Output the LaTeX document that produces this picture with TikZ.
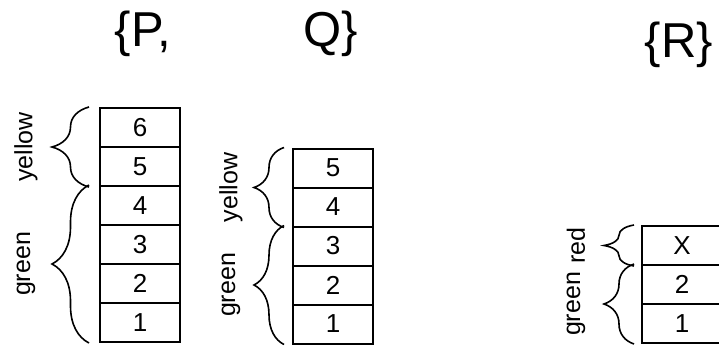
\documentclass[tikz,border=0pt]{standalone}
\usepackage{fontspec}
\setmainfont{Liberation Sans}
\usepackage{tikz}
\usetikzlibrary{positioning}
\usetikzlibrary{decorations.pathreplacing}

\begin{document}
\begin{tikzpicture}[x=1pt, y=1pt, node distance=39pt, line width=2pt,
    cell/.style={draw, minimum width=80pt, minimum height=39pt, inner sep=0pt, font=\fontsize{26}{28}\selectfont},
    grp/.style={decorate, decoration={brace, amplitude=#1}, line width=1.6pt},
    lbl/.style={rotate=90, font=\fontsize{25}{28}\selectfont},
    ttl/.style={anchor=base, font=\fontsize{49}{54}\selectfont}]
    \useasboundingbox (0,0) rectangle (719,349);

    \node[ttl] (tp) at (143,302) {\{P,};
    \node[ttl] (tq) at (331,302) {Q\}};
    \node[ttl] (tr) at (679,292) {\{R\}};

    \node[cell] (p6) at (140,221.5) {6};
    \node[cell] (p5) [below of=p6] {5};
    \node[cell] (p4) [below of=p5] {4};
    \node[cell] (p3) [below of=p4] {3};
    \node[cell] (p2) [below of=p3] {2};
    \node[cell] (p1) [below of=p2] {1};
    \draw[grp=37] ([xshift=-10pt]p5.south west) -- node[xshift=-63pt, lbl] {yellow} ([xshift=-10pt]p6.north west);
    \draw[grp=37] ([xshift=-10pt]p1.south west) -- node[xshift=-63pt, lbl] {green} ([xshift=-10pt]p4.north west);

    \node[cell] (q5) at (333,181) {5};
    \node[cell] (q4) [below of=q5] {4};
    \node[cell] (q3) [below of=q4] {3};
    \node[cell] (q2) [below of=q3] {2};
    \node[cell] (q1) [below of=q2] {1};
    \draw[grp=30] ([xshift=-8pt]q4.south west) -- node[xshift=-53pt, lbl] {yellow} ([xshift=-8pt]q5.north west);
    \draw[grp=30] ([xshift=-8pt]q1.south west) -- node[xshift=-53pt, lbl] {green} ([xshift=-8pt]q3.north west);

    \node[cell] (rx) at (682,103.5) {X};
    \node[cell] (r2) [below of=rx] {2};
    \node[cell] (r1) [below of=r2] {1};
    \draw[grp=30] ([xshift=-7pt]rx.south west) -- node[xshift=-58pt, lbl] {red} ([xshift=-7pt]rx.north west);
    \draw[grp=30] ([xshift=-7pt]r1.south west) -- node[xshift=-58pt, lbl] {green} ([xshift=-7pt]r2.north west);
\end{tikzpicture}
\end{document}
